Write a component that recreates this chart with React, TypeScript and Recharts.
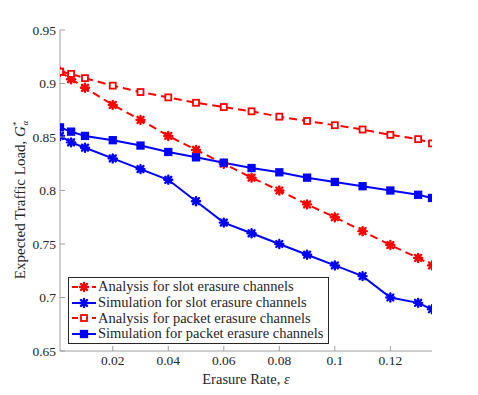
import React from 'react';
import { LineChart, Line, XAxis, YAxis } from 'recharts';

const erasureRate = [0.001, 0.005, 0.01, 0.02, 0.03, 0.04, 0.05, 0.06, 0.07, 0.08, 0.09, 0.1, 0.11, 0.12, 0.13, 0.135];
const analysisSlot = [0.911, 0.904, 0.896, 0.88, 0.866, 0.851, 0.838, 0.825, 0.812, 0.8, 0.787, 0.775, 0.762, 0.749, 0.737, 0.73];
const simulationSlot = [0.851, 0.845, 0.84, 0.83, 0.82, 0.81, 0.79, 0.77, 0.76, 0.75, 0.74, 0.73, 0.72, 0.7, 0.695, 0.689];
const analysisPacket = [0.911, 0.909, 0.905, 0.898, 0.892, 0.887, 0.882, 0.878, 0.874, 0.869, 0.865, 0.861, 0.857, 0.852, 0.848, 0.844];
const simulationPacket = [0.859, 0.855, 0.851, 0.847, 0.842, 0.836, 0.831, 0.826, 0.821, 0.817, 0.812, 0.808, 0.804, 0.8, 0.796, 0.793];

const xTicks = [0.02, 0.04, 0.06, 0.08, 0.1, 0.12];
const yTicks = [0.65, 0.7, 0.75, 0.8, 0.85, 0.9, 0.95];

const data = erasureRate.map((e, i) => ({
  e,
  anaSlot: analysisSlot[i],
  simSlot: simulationSlot[i],
  anaPacket: analysisPacket[i],
  simPacket: simulationPacket[i],
}));

type Marker = 'star' | 'square' | 'hollow';

const series: { key: string; name: string; color: string; dashed: boolean; marker: Marker }[] = [
  { key: 'anaSlot', name: 'Analysis for slot erasure channels', color: '#ff0000', dashed: true, marker: 'star' },
  { key: 'simSlot', name: 'Simulation for slot erasure channels', color: '#0000ff', dashed: false, marker: 'star' },
  { key: 'anaPacket', name: 'Analysis for packet erasure channels', color: '#ff0000', dashed: true, marker: 'hollow' },
  { key: 'simPacket', name: 'Simulation for packet erasure channels', color: '#0000ff', dashed: false, marker: 'square' },
];

const FONT = '"Liberation Serif", "DejaVu Serif", serif';
const TEXT = '#262626';
const AXIS = '#a0a0a0';

const drawMarker = (marker: Marker, cx: number, cy: number, color: string, key?: string) => {
  if (marker === 'star') {
    const r = 4;
    const d = r * 0.75;
    return (
      <g key={key} stroke={color} strokeWidth={2.4} strokeLinecap="round">
        <line x1={cx - r} y1={cy} x2={cx + r} y2={cy} />
        <line x1={cx} y1={cy - r} x2={cx} y2={cy + r} />
        <line x1={cx - d} y1={cy - d} x2={cx + d} y2={cy + d} />
        <line x1={cx - d} y1={cy + d} x2={cx + d} y2={cy - d} />
      </g>
    );
  }
  const s = marker === 'hollow' ? 6 : 6.5;
  return (
    <rect
      key={key}
      x={cx - s / 2}
      y={cy - s / 2}
      width={s}
      height={s}
      fill={marker === 'hollow' ? '#ffffff' : color}
      stroke={color}
      strokeWidth={1.8}
    />
  );
};

const makeDot = (marker: Marker, color: string) => (props: any) => {
  const { cx, cy, index } = props;
  if (cx == null || cy == null) return <g key={index} />;
  return drawMarker(marker, cx, cy, color, `m${index}`);
};

const BottomTick = (props: any) => {
  const { x, y, payload } = props;
  return (
    <g>
      <line x1={x} y1={y} x2={x} y2={y - 5} stroke={AXIS} />
      <text x={x} y={y + 14} textAnchor="middle" fill={TEXT} fontSize={13.5} fontFamily={FONT}>
        {String(payload.value)}
      </text>
    </g>
  );
};

const TopTick = (props: any) => {
  const { x, y } = props;
  return <line x1={x} y1={y} x2={x} y2={y + 5} stroke={AXIS} />;
};

const LeftTick = (props: any) => {
  const { x, y, payload } = props;
  return (
    <g>
      <line x1={x} y1={y} x2={x + 5} y2={y} stroke={AXIS} />
      <text x={x - 4} y={y + 4.5} textAnchor="end" fill={TEXT} fontSize={13.5} fontFamily={FONT}>
        {String(payload.value)}
      </text>
    </g>
  );
};

const RightTick = (props: any) => {
  const { x, y } = props;
  return <line x1={x} y1={y} x2={x - 5} y2={y} stroke={AXIS} />;
};

const LegendBox = () => (
  <div
    style={{
      position: 'absolute',
      left: 68,
      top: 277,
      width: 259,
      height: 64,
      border: `1px solid ${TEXT}`,
      background: '#ffffff',
      fontFamily: FONT,
      fontSize: 14.5,
      color: TEXT,
      paddingTop: 1,
    }}
  >
    {series.map((s) => (
      <div key={s.key} style={{ display: 'flex', alignItems: 'center', height: 15.7 }}>
        <svg width={28} height={14} style={{ marginLeft: 1, flexShrink: 0 }}>
          <line
            x1={2}
            y1={7}
            x2={26}
            y2={7}
            stroke={s.color}
            strokeWidth={2}
            strokeDasharray={s.dashed ? '6 4' : undefined}
          />
          {drawMarker(s.marker, 14, 7, s.color)}
        </svg>
        <span style={{ whiteSpace: 'nowrap', lineHeight: '15px' }}>{s.name}</span>
      </div>
    ))}
  </div>
);

export default function App() {
  return (
    <div style={{ position: 'absolute', left: 0, top: 0, width: 478, height: 395, background: '#ffffff' }}>
      <LineChart width={478} height={395} data={data} margin={{ top: 30, right: 46, bottom: 0, left: 0 }}>
        <XAxis
          dataKey="e"
          type="number"
          domain={[0.001, 0.135]}
          allowDataOverflow
          ticks={xTicks}
          height={44}
          stroke={AXIS}
          tickLine={false}
          tickSize={0}
          tickMargin={0}
          tick={<BottomTick />}
        />
        <XAxis
          xAxisId="top"
          dataKey="e"
          type="number"
          orientation="top"
          domain={[0.001, 0.135]}
          allowDataOverflow
          ticks={xTicks}
          height={0}
          stroke={AXIS}
          tickLine={false}
          tickSize={0}
          tickMargin={0}
          tick={<TopTick />}
        />
        <YAxis
          type="number"
          domain={[0.65, 0.95]}
          allowDataOverflow
          ticks={yTicks}
          width={60}
          stroke={AXIS}
          tickLine={false}
          tickSize={0}
          tickMargin={0}
          tick={<LeftTick />}
        />
        <YAxis
          yAxisId="right"
          type="number"
          orientation="right"
          domain={[0.65, 0.95]}
          allowDataOverflow
          ticks={yTicks}
          width={0}
          stroke={AXIS}
          tickLine={false}
          tickSize={0}
          tickMargin={0}
          tick={<RightTick />}
        />
        {series.map((s) => (
          <Line
            key={s.key}
            dataKey={s.key}
            name={s.name}
            type="linear"
            stroke={s.color}
            strokeWidth={2}
            strokeDasharray={s.dashed ? '8 5' : undefined}
            dot={makeDot(s.marker, s.color)}
            activeDot={false}
            isAnimationActive={false}
          />
        ))}
      </LineChart>
      <svg width={478} height={395} style={{ position: 'absolute', left: 0, top: 0, pointerEvents: 'none' }}>
        <text x={246} y={384} textAnchor="middle" fill={TEXT} fontSize={14.5} fontFamily={FONT}>
          Erasure Rate, <tspan fontStyle="italic">ε</tspan>
        </text>
        <text
          transform="translate(25,200) rotate(-90)"
          textAnchor="middle"
          fill={TEXT}
          fontSize={15}
          fontFamily={FONT}
        >
          Expected Traffic Load, <tspan fontStyle="italic">G</tspan>
          <tspan fontSize={9} dy={-6}>*</tspan>
          <tspan fontSize={9} fontStyle="italic" dy={9} dx={-4}>α</tspan>
        </text>
      </svg>
      <LegendBox />
    </div>
  );
}
